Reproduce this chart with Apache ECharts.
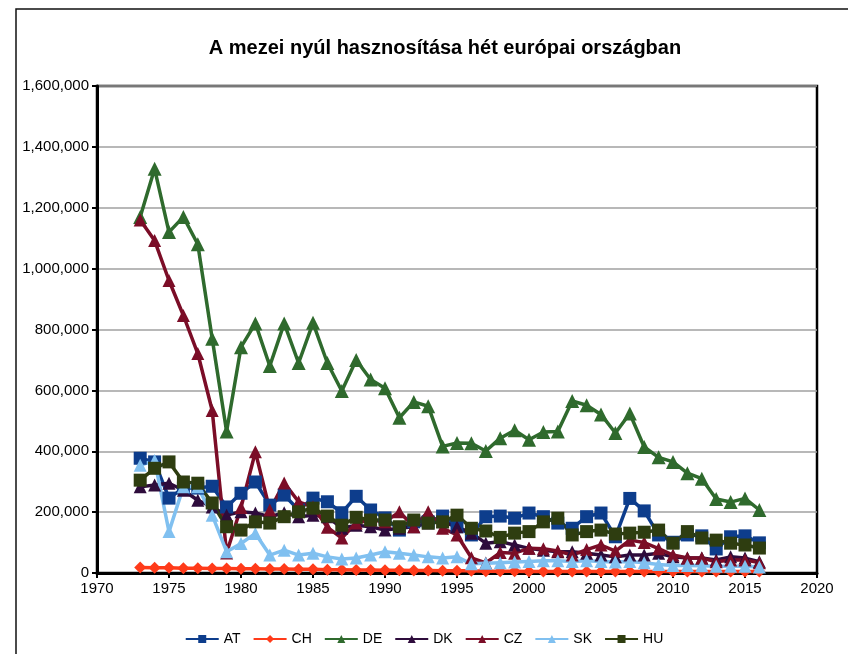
<!DOCTYPE html>
<html>
<head>
<meta charset="utf-8">
<script src="https://cdn.jsdelivr.net/npm/echarts@6/dist/echarts.min.js"></script>
<style>
  html, body { margin: 0; padding: 0; background: #fff; }
  #chart { width: 848px; height: 654px; }
</style>
</head>
<body>
<div id="chart"></div>
<script>
// évek 1973-2016
const years = [1973, 1974, 1975, 1976, 1977, 1978, 1979, 1980, 1981, 1982, 1983, 1984, 1985, 1986, 1987,
  1988, 1989, 1990, 1991, 1992, 1993, 1994, 1995, 1996, 1997, 1998, 1999, 2000, 2001, 2002, 2003,
  2004, 2005, 2006, 2007, 2008, 2009, 2010, 2011, 2012, 2013, 2014, 2015, 2016]

const AT = [377000, 365000, 246000, 279000, 279000, 285000, 217000, 262000, 299000, 223000, 256000, 207000, 246000, 234000, 198000,
  252000, 207000, 181000, 141000, 168000, 168000, 187000, 152000, 125000, 185000, 187000, 180000, 197000, 185000, 164000, 147000,
  185000, 197000, 119000, 245000, 204000, 125000, 101000, 125000, 122000, 79000, 119000, 122000, 99000]
const CH = [18000, 17000, 17000, 16000, 16000, 15000, 15000, 14000, 14000, 13000, 13000, 12000, 12000, 11000, 11000,
  10000, 10000, 9000, 9000, 8000, 8000, 7000, 7000, 7000, 6000, 6000, 6000, 5000, 5000, 5000, 5000,
  5000, 5000, 5000, 5000, 5000, 5000, 5000, 5000, 5000, 5000, 5000, 5000, 5000]
const DE = [1170000, 1328000, 1120000, 1170000, 1080000, 770000, 465000, 742000, 820000, 680000, 820000, 690000, 822000, 690000, 598000,
  700000, 636000, 607000, 510000, 562000, 548000, 416000, 427000, 426000, 401000, 443000, 469000, 438000, 463000, 465000, 565000,
  551000, 521000, 460000, 524000, 414000, 380000, 365000, 328000, 310000, 243000, 233000, 245000, 207000]
const DK = [283000, 289000, 295000, 272000, 239000, 217000, 190000, 201000, 197000, 185000, 198000, 185000, 190000, 185000, 147000,
  157000, 152000, 141000, 147000, 152000, 164000, 168000, 152000, 131000, 98000, 103000, 92000, 81000, 75000, 70000, 70000,
  65000, 59000, 53000, 59000, 59000, 65000, 53000, 49000, 49000, 43000, 53000, 49000, 37000]
const CZ = [1160000, 1092000, 961000, 846000, 721000, 534000, 66000, 215000, 398000, 207000, 296000, 234000, 217000, 150000, 115000,
  164000, 174000, 168000, 201000, 152000, 201000, 147000, 125000, 50000, 33000, 67000, 65000, 81000, 80000, 72000, 59000,
  77000, 92000, 72000, 108000, 100000, 80000, 59000, 49000, 49000, 37000, 43000, 43000, 34000]
const SK = [354000, 370000, 136000, 283000, 283000, 190000, 70000, 97000, 130000, 59000, 75000, 59000, 65000, 53000, 46000,
  49000, 59000, 70000, 65000, 59000, 53000, 49000, 53000, 30000, 32000, 34000, 36000, 38000, 40000, 40000, 38000,
  40000, 38000, 36000, 38000, 34000, 28000, 25000, 25000, 24000, 22000, 22000, 22000, 20000]
const HU = [305000, 344000, 365000, 299000, 295000, 230000, 152000, 141000, 168000, 164000, 185000, 201000, 213000, 187000, 157000,
  183000, 174000, 174000, 152000, 174000, 164000, 168000, 190000, 147000, 138000, 117000, 131000, 136000, 168000, 180000, 125000,
  136000, 141000, 128000, 131000, 134000, 141000, 98000, 136000, 115000, 108000, 98000, 92000, 82000]

const seriesDefs = [
  { name: 'AT', data: AT, color: '#0d3d8c', symbol: 'rect', size: 13 },
  { name: 'CH', data: CH, color: '#ff3b1a', symbol: 'diamond', size: 12 },
  { name: 'DE', data: DE, color: '#2f6a2d', symbol: 'triangle', size: 14 },
  { name: 'DK', data: DK, color: '#2e0c3c', symbol: 'triangle', size: 13 },
  { name: 'CZ', data: CZ, color: '#7b0d27', symbol: 'triangle', size: 13 },
  { name: 'SK', data: SK, color: '#80c0f0', symbol: 'triangle', size: 13 },
  { name: 'HU', data: HU, color: '#2e3d10', symbol: 'rect', size: 13 }
]

const chart = echarts.init(document.getElementById('chart'))

const option = {
  backgroundColor: '#fff',
  animation: false,
  textStyle: { fontFamily: 'Liberation Sans, Arial, sans-serif' },
  title: {
    text: 'A mezei nyúl hasznosítása hét európai országban',
    left: 440,
    textAlign: 'center',
    top: 33,
    textStyle: { fontSize: 20, fontWeight: 'bold', color: '#000' }
  },
  graphic: [
    {
      type: 'rect',
      shape: { x: 16, y: 9, width: 860, height: 680 },
      style: { fill: 'none', stroke: '#111', lineWidth: 1.5 },
      silent: true,
      z: 0
    }
  ],
  legend: {
    top: 627,
    left: 'center',
    itemWidth: 33,
    itemHeight: 10,
    itemGap: 12,
    textStyle: { fontSize: 14, color: '#000' },
    data: seriesDefs.map(s => s.name)
  },
  grid: {
    left: 97,
    right: 31,
    top: 86,
    bottom: 81,
    show: true,
    borderColor: '#000',
    borderWidth: 2.5,
    backgroundColor: 'transparent'
  },
  xAxis: {
    type: 'value',
    min: 1970,
    max: 2020,
    interval: 5,
    axisLine: { show: true, lineStyle: { color: '#000', width: 3 } },
    axisTick: { show: true, length: 5, lineStyle: { color: '#000', width: 2 } },
    axisLabel: { color: '#000', fontSize: 15, margin: 8, formatter: v => String(v) },
    splitLine: { show: false }
  },
  yAxis: {
    type: 'value',
    min: 0,
    max: 1600000,
    interval: 200000,
    axisLine: { show: true, lineStyle: { color: '#000', width: 3 } },
    axisTick: { show: true, length: 5, lineStyle: { color: '#000', width: 2 } },
    axisLabel: { color: '#000', fontSize: 15, margin: 8, formatter: v => v.toLocaleString('en-US') },
    splitLine: { show: true, lineStyle: { color: '#a0a0a0', width: 1.5 } }
  },
  series: seriesDefs.map(s => ({
    name: s.name,
    type: 'line',
    data: years.map((y, i) => [y, s.data[i]]),
    symbol: s.symbol,
    symbolSize: s.size,
    lineStyle: { color: s.color, width: 3.5 },
    itemStyle: { color: s.color },
    emphasis: { disabled: true }
  }))
}

chart.setOption(option)
</script>
</body>
</html>
